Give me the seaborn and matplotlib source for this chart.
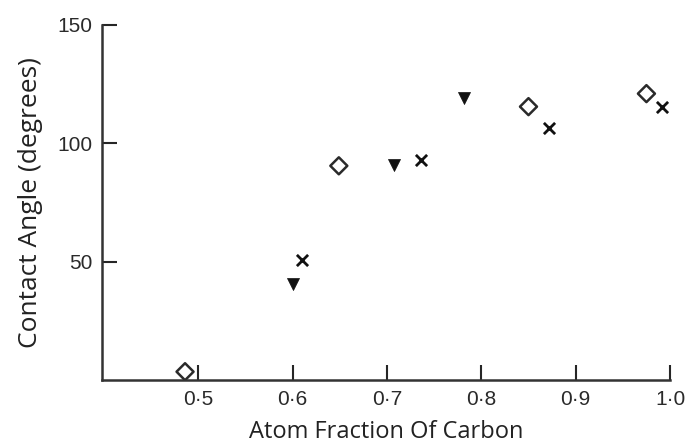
import matplotlib
matplotlib.use("Agg")
import matplotlib.pyplot as plt
import seaborn as sns
import pandas as pd

# series
diamond_x = [0.486, 0.649, 0.850, 0.975]
diamond_y = [3.5, 90.5, 115.5, 121.0]

triangle_x = [0.600, 0.707, 0.782]
triangle_y = [40.5, 91.0, 119.0]

cross_x = [0.610, 0.736, 0.872, 0.991]
cross_y = [50.5, 93.0, 106.5, 115.5]

x_ticks = [0.5, 0.6, 0.7, 0.8, 0.9, 1.0]
x_tick_labels = ["0·5", "0·6", "0·7", "0·8", "0·9", "1·0"]
y_ticks = [50, 100, 150]
y_tick_labels = ["50", "100", "150"]

sns.set_style("ticks")
plt.rcParams['font.family'] = ['Open Sans', 'DejaVu Sans']

fig = plt.figure(figsize=(6.86, 4.48), dpi=100)
ax = fig.add_axes([0.1487, 0.1518, 0.828, 0.7924])

df_d = pd.DataFrame({"x": diamond_x, "y": diamond_y})
df_t = pd.DataFrame({"x": triangle_x, "y": triangle_y})
df_c = pd.DataFrame({"x": cross_x, "y": cross_y})

sns.scatterplot(data=df_d, x="x", y="y", ax=ax, marker="D", s=75,
                facecolor="none", edgecolor="#2a2a2a", linewidth=1.8)
sns.scatterplot(data=df_t, x="x", y="y", ax=ax, marker="v", s=75,
                color="#111111", edgecolor="#111111", linewidth=0.5)
sns.scatterplot(data=df_c, x="x", y="y", ax=ax, marker="x", s=65,
                color="#111111", linewidth=2.0)

ax.set_xlim(0.398, 1.0)
ax.set_ylim(0, 150)

ax.set_xticks(x_ticks)
ax.set_xticklabels(x_tick_labels)
ax.set_yticks(y_ticks)
ax.set_yticklabels(y_tick_labels)

ax.tick_params(axis="x", direction="in", length=11, width=1.5, pad=7,
               labelsize=15, labelcolor="#2a2a2a")
ax.tick_params(axis="y", direction="in", length=11, width=1.5, pad=7,
               labelsize=15, labelcolor="#2a2a2a")
for lab in ax.get_xticklabels() + ax.get_yticklabels():
    lab.set_family("Liberation Sans")

sns.despine(ax=ax)
for sp in ["left", "bottom"]:
    ax.spines[sp].set_linewidth(1.8)
    ax.spines[sp].set_color("#333333")

ax.set_xlabel("Atom Fraction Of Carbon", fontsize=17, color="#222222", labelpad=8)
ax.set_ylabel("Contact Angle (degrees)", fontsize=19, color="#222222", labelpad=10)

fig.savefig("out.png", dpi=100)
